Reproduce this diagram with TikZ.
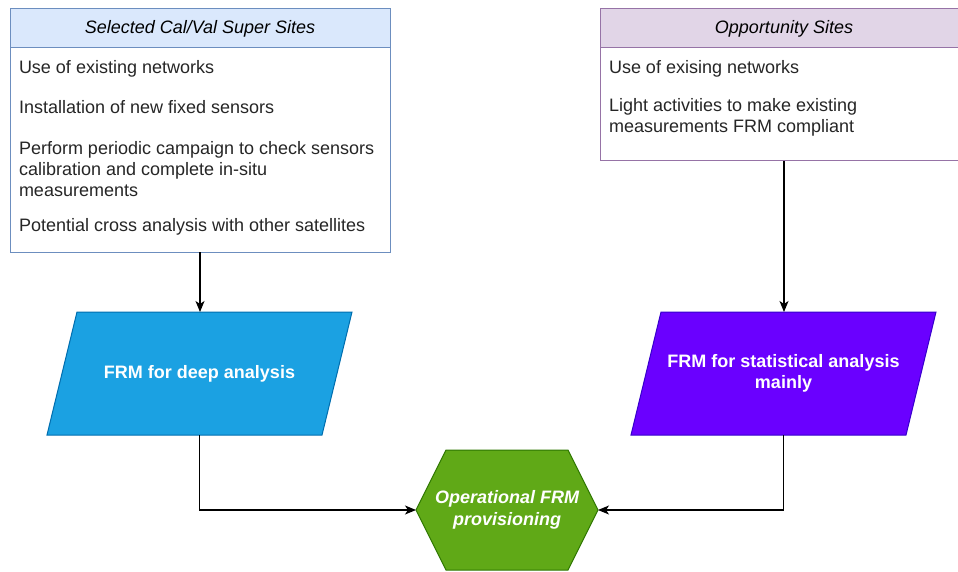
\documentclass[tikz,border=0pt]{standalone}
\usepackage{fontspec}
\setmainfont{Liberation Sans}
\usetikzlibrary{arrows.meta,calc}
\definecolor{hdrblue}{HTML}{DAE8FC}
\definecolor{strblue}{HTML}{6C8EBF}
\definecolor{hdrpurple}{HTML}{E1D5E7}
\definecolor{strpurple}{HTML}{9673A6}
\definecolor{parblue}{HTML}{1BA1E2}
\definecolor{parbluestr}{HTML}{006EAF}
\definecolor{parviolet}{HTML}{6A00FF}
\definecolor{parvioletstr}{HTML}{3700CC}
\definecolor{hexgreen}{HTML}{60A917}
\definecolor{hexgreenstr}{HTML}{2D7600}
\definecolor{txt}{HTML}{262626}
\begin{document}
\begin{tikzpicture}[x=1pt,y=-1pt,
  every node/.style={font=\fontsize{18}{21}\selectfont, inner sep=0pt, outer sep=0pt},
  hdr/.style={draw, line width=1pt, minimum height=39pt, anchor=south west, font=\fontsize{18}{21}\selectfont\itshape},
  bodybox/.style={draw, line width=1pt, fill=white, anchor=north west},
  item/.style={anchor=west, align=left, text=txt},
  shapetext/.style={align=center, text=white, font=\fontsize{18}{21}\selectfont\bfseries},
  conn/.style={draw=black, line width=1.3pt, -{Stealth[length=11pt,width=9pt,inset=3pt]}}
]
\useasboundingbox (0,0) rectangle (958,572);

% left site box
\node[bodybox, draw=strblue, minimum width=380pt, minimum height=204pt] (lbody) at (10,48) {};
\node[hdr, fill=hdrblue, draw=strblue, minimum width=380pt] (lhead) at (10,48) {Selected Cal/Val Super Sites};
\node[item] (l1) at (19,69) {Use of existing networks};
\node[item] (l2) at (19,107) {Installation of new fixed sensors};
\node[item] (l3) at (19,169) {Perform periodic campaign to check sensors\\calibration and complete in-situ\\measurements};
\node[item] (l4) at (19,227) {Potential cross analysis with other satellites};

% right site box
\node[bodybox, draw=strpurple, minimum width=368pt, minimum height=113pt] (rbody) at (600,48) {};
\node[hdr, fill=hdrpurple, draw=strpurple, minimum width=368pt] (rhead) at (600,48) {Opportunity Sites};
\node[item] (r1) at (609,69) {Use of exising networks};
\node[item] (r2) at (609,117.5) {Light activities to make existing\\measurements FRM compliant};

% parallelograms
\filldraw[fill=parblue, draw=parbluestr, line width=1pt] (77,312) -- (352,312) -- (322,435) -- (47,435) -- cycle;
\node[shapetext, minimum width=245pt, minimum height=123pt] (lpar) at (199.5,373.5) {FRM for deep analysis};
\filldraw[fill=parviolet, draw=parvioletstr, line width=1pt] (661,312) -- (936,312) -- (906,435) -- (631,435) -- cycle;
\node[shapetext, minimum width=245pt, minimum height=123pt] (rpar) at (783.5,373.5) {FRM for statistical analysis\\mainly};

% hexagon
\filldraw[fill=hexgreen, draw=hexgreenstr, line width=1pt] (446,450) -- (568,450) -- (598,510) -- (568,570) -- (446,570) -- (416,510) -- cycle;
\node[shapetext, font=\fontsize{18}{22}\selectfont\bfseries\itshape, minimum width=182pt, minimum height=120pt] (hex) at (507,510) {Operational FRM\\provisioning};

% connectors
\draw[conn] (lbody.south) -- (lbody.south |- lpar.north);
\draw[conn] (rbody.south) -- (rbody.south |- rpar.north);
\draw[conn] (lpar.south) |- (hex.west);
\draw[conn] (rpar.south) |- (hex.east);
\end{tikzpicture}
\end{document}
